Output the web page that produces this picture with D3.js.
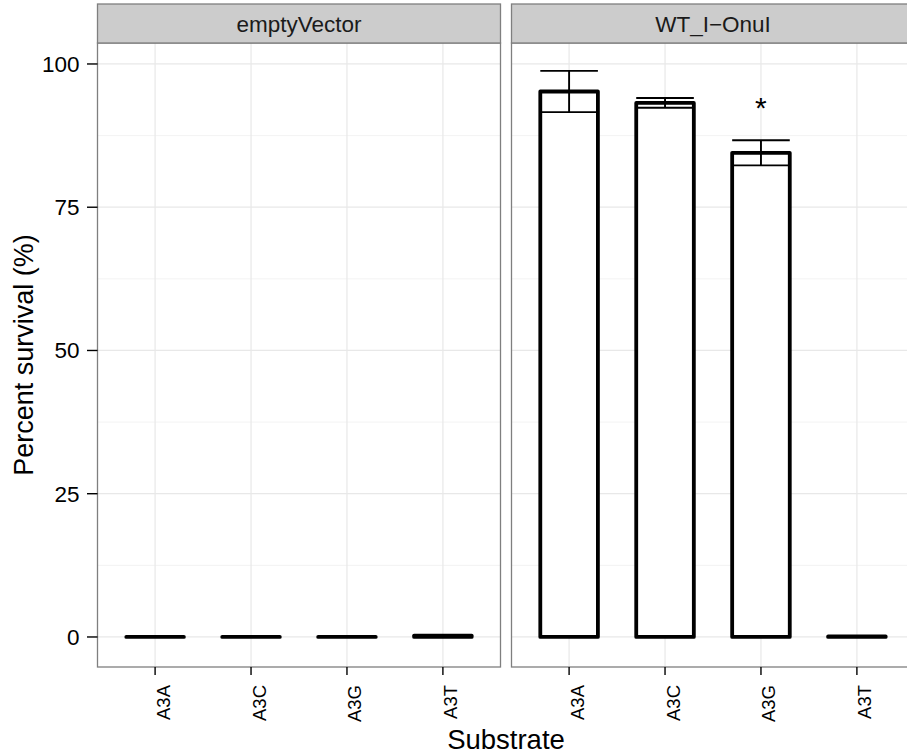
<!DOCTYPE html>
<html><head><meta charset="utf-8">
<script src="https://cdn.jsdelivr.net/npm/d3@7"></script>
<style>body{margin:0;background:#fff}svg{display:block;font-family:"Liberation Sans",Arial,sans-serif}</style>
</head><body><svg id="c" width="907" height="754"></svg>
<script>
const facets = ["emptyVector", "WT_I\u2212OnuI"];
const substrates = ["A3A", "A3C", "A3G", "A3T"];
const meansEmpty = [0, 0, 0, 0.25];
const errEmpty = [0, 0, 0, 0.1];
const meansWT = [95.2, 93.2, 84.5, 0.1];
const errWT = [3.6, 0.85, 2.2, 0];
const starWT = ["", "", "*", ""];
const starPosWT = [0, 0, 93.5, 0];
const yTicks = [0, 25, 50, 75, 100];
const yMinor = [12.5, 37.5, 62.5, 87.5];

const data = [
  {facet: facets[0], means: meansEmpty, errs: errEmpty, stars: ["", "", "", ""], starPos: [0, 0, 0, 0]},
  {facet: facets[1], means: meansWT, errs: errWT, stars: starWT, starPos: starPosWT}
];

const svg = d3.select("#c");
const pTop = 43, pBottom = 667, stripTop = 4;
const panelW = 403, left0 = 97.5, gap = 11;
const y = d3.scaleLinear().domain([-5.24, 103.66]).range([pBottom, pTop]);

data.forEach((d, i) => {
  const x0 = left0 + i * (panelW + gap);
  const x = d3.scalePoint().domain(substrates).range([x0 + 0.6 * 96, x0 + panelW - 0.6 * 96]);
  const bw = 0.6 * 96;
  const g = svg.append("g");
  g.append("rect").attr("x", x0).attr("y", pTop).attr("width", panelW).attr("height", pBottom - pTop).attr("fill", "#fff");
  g.selectAll(".mn").data(yMinor).enter().append("line")
    .attr("x1", x0).attr("x2", x0 + panelW).attr("y1", v => y(v)).attr("y2", v => y(v))
    .attr("stroke", "#f3f3f3").attr("stroke-width", 1);
  g.selectAll(".mj").data(yTicks).enter().append("line")
    .attr("x1", x0).attr("x2", x0 + panelW).attr("y1", v => y(v)).attr("y2", v => y(v))
    .attr("stroke", "#e8e8e8").attr("stroke-width", 1.2);
  g.selectAll(".vx").data(substrates).enter().append("line")
    .attr("x1", s => x(s)).attr("x2", s => x(s)).attr("y1", pTop).attr("y2", pBottom)
    .attr("stroke", "#e8e8e8").attr("stroke-width", 1.2);
  g.selectAll(".bar").data(substrates).enter().append("path")
    .attr("d", (s, j) => {
      const xl = x(s) - bw / 2, xr = x(s) + bw / 2, yt = y(d.means[j]), yb = y(0);
      return `M${xl},${yb}L${xl},${yt}L${xr},${yt}L${xr},${yb}Z`;
    })
    .attr("fill", "#fff").attr("stroke", "#000").attr("stroke-width", 3.8).attr("stroke-linejoin", "round");
  substrates.forEach((s, j) => {
    if (d.errs[j] <= 0) return;
    const lo = y(d.means[j] - d.errs[j]), hi = y(d.means[j] + d.errs[j]);
    const p = `M${x(s) - bw / 2},${hi}L${x(s) + bw / 2},${hi}M${x(s)},${hi}L${x(s)},${lo}M${x(s) - bw / 2},${lo}L${x(s) + bw / 2},${lo}`;
    g.append("path").attr("d", p).attr("fill", "none").attr("stroke", "#000").attr("stroke-width", 1.9);
  });
  substrates.forEach((s, j) => {
    if (!d.stars[j]) return;
    g.append("text").attr("x", x(s)).attr("y", y(d.starPos[j]) + 17)
      .attr("text-anchor", "middle").attr("font-size", 30).attr("fill", "#000").text(d.stars[j]);
  });
  g.append("rect").attr("x", x0).attr("y", pTop).attr("width", panelW).attr("height", pBottom - pTop)
    .attr("fill", "none").attr("stroke", "#7f7f7f").attr("stroke-width", 1.3);
  g.append("rect").attr("x", x0).attr("y", stripTop).attr("width", panelW).attr("height", pTop - stripTop)
    .attr("fill", "#cccccc").attr("stroke", "#7f7f7f").attr("stroke-width", 1.3);
  g.append("text").attr("x", x0 + panelW / 2).attr("y", 32)
    .attr("text-anchor", "middle").attr("font-size", 22.5).attr("fill", "#1a1a1a").text(d.facet);
  const xa = g.append("g").attr("transform", `translate(0,${pBottom})`);
  xa.selectAll("line").data(substrates).enter().append("line")
    .attr("x1", s => x(s)).attr("x2", s => x(s)).attr("y1", 0).attr("y2", 8)
    .attr("stroke", "#000").attr("stroke-width", 1.4);
  xa.selectAll("text").data(substrates).enter().append("text")
    .attr("transform", s => `translate(${x(s) + 14.5},${18}) rotate(-90)`)
    .attr("text-anchor", "end").attr("font-size", 18.5).attr("fill", "#000").text(s => s);
});

const ya = svg.append("g");
ya.selectAll("line").data(yTicks).enter().append("line")
  .attr("x1", 87).attr("x2", left0).attr("y1", v => y(v)).attr("y2", v => y(v))
  .attr("stroke", "#000").attr("stroke-width", 1.4);
ya.selectAll("text").data(yTicks).enter().append("text")
  .attr("x", 79.5).attr("y", v => y(v) + 8).attr("text-anchor", "end")
  .attr("font-size", 22.5).attr("fill", "#000").text(v => v);

svg.append("text").attr("transform", `translate(33,${355}) rotate(-90)`)
  .attr("text-anchor", "middle").attr("font-size", 27).attr("fill", "#000").text("Percent survival (%)");
svg.append("text").attr("x", 506).attr("y", 749)
  .attr("text-anchor", "middle").attr("font-size", 27.5).attr("fill", "#000").text("Substrate");
</script></body></html>
